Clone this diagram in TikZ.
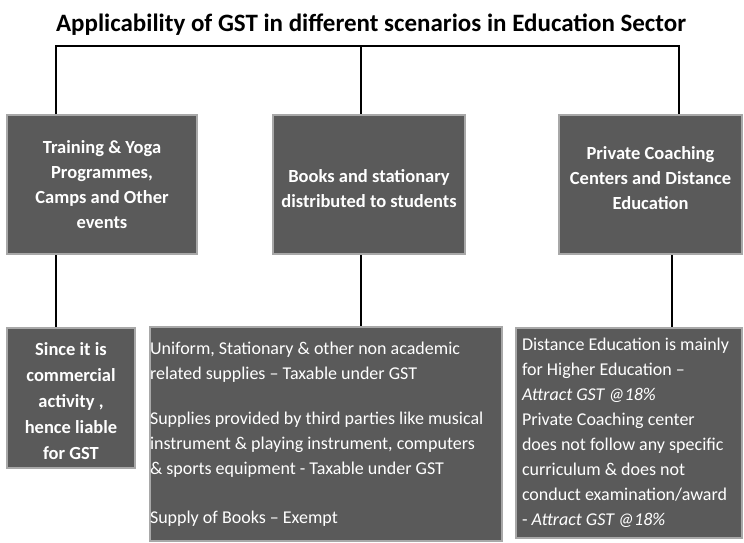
\documentclass[tikz,border=0pt]{standalone}
\usepackage{fontspec}
\setmainfont{Carlito}
\usepackage{tikz}
\usetikzlibrary{positioning, calc}
\definecolor{boxgray}{HTML}{5A5A5A}
\definecolor{edgegray}{HTML}{A8A8A8}
\tikzset{
    heading/.style={font=\fontsize{25}{30}\selectfont\bfseries, anchor=base, inner sep=0pt},
    topbox/.style={draw=edgegray, fill=boxgray, line width=2pt, text=white, align=center,
        font=\fontsize{18.5}{25}\selectfont\bfseries, minimum height=139pt, inner sep=0pt},
    notebox/.style={draw=edgegray, fill=boxgray, line width=2pt, text=white,
        font=\fontsize{18}{25}\selectfont, inner sep=0pt},
    link/.style={draw=black, line width=1.2pt},
}
\begin{document}
\begin{tikzpicture}[x=1pt, y=-1pt]
    \useasboundingbox (0,0) rectangle (744,543);

    \node[heading] (title) at (371,32) {Applicability of GST in different scenarios in Education Sector};

    % first row
    \node[topbox, minimum width=190pt] (training) at (102,184.5)
        {Training \& Yoga\\Programmes,\\Camps and Other\\events};
    \node[topbox, minimum width=192pt] (books) at (369,184.5)
        {\rule{0pt}{22pt}Books and stationary\\distributed to students};
    \node[topbox, minimum width=183pt] (coaching) at (650.5,184.5)
        {Private Coaching\\Centers and Distance\\Education\rule[-12pt]{0pt}{0pt}};

    % second row
    \node[notebox, font=\fontsize{18.5}{26}\selectfont\bfseries, align=center,
        minimum width=128pt, minimum height=140pt] (commercial) at (71,398)
        {\rule{0pt}{19pt}Since it is\\commercial\\activity ,\\hence liable\\for GST};
    \node[notebox, align=flush left, text width=352pt, minimum height=214pt] (supplies) at (326,434)
        {Uniform, Stationary \& other non academic\\
         related supplies -- Taxable under GST\\[20pt]
         Supplies provided by third parties like musical\\
         instrument \& playing instrument, computers\\
         \& sports equipment - Taxable under GST\\[24pt]
         Supply of Books -- Exempt};
    \node[notebox, align=flush left, text width=214pt, minimum width=226pt, minimum height=210pt] (distance) at (629,433)
        {Distance Education is mainly\\
         for Higher Education --\\
         \textit{Attract GST @18\%}\\
         Private Coaching center\\
         does not follow any specific\\
         curriculum \& does not\\
         conduct examination/award\\
         - \textit{Attract GST @18\%}};

    % connectors
    \coordinate (barL) at (56,46);
    \coordinate (barC) at (361,46);
    \coordinate (barR) at (679,46);
    \draw[link] (training.north -| barL) -- (barL) -- (barR) -- (coaching.north -| barR);
    \draw[link] (barC) -- (books.north -| barC);

    \coordinate (dropL) at (56,300);
    \coordinate (dropC) at (361,300);
    \coordinate (dropR) at (672,300);
    \draw[link] (training.south -| dropL) -- (commercial.north -| dropL);
    \draw[link] (books.south -| dropC) -- (supplies.north -| dropC);
    \draw[link] (coaching.south -| dropR) -- (distance.north -| dropR);
\end{tikzpicture}
\end{document}
